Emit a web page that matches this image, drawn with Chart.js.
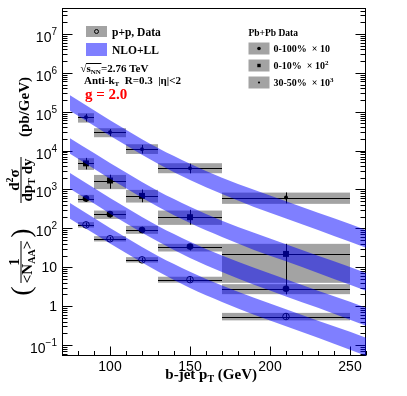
<!DOCTYPE html>
<html><head><meta charset="utf-8">
<script src="https://cdn.jsdelivr.net/npm/chart.js@4.4.0/dist/chart.umd.min.js"></script>
<style>html,body{margin:0;padding:0;background:#fff;}</style>
</head><body>
<canvas id="c" width="407" height="396" style="width:407px;height:396px;display:block"></canvas>
<script>
// ---------- data ----------
const binLo = [80, 90, 110, 130, 170];
const binHi = [90, 110, 130, 170, 250];
const binCenter = [85, 100, 120, 150, 210];

const ppData   = [123, 54, 15.5, 4.8, 0.54];
const ppSysHi  = [145, 63, 18.2, 5.7, 0.67];
const ppSysLo  = [105, 46, 13.2, 4.0, 0.43];
const ppStatHi = [140, 60, 17.5, 5.5, 0.62];
const ppStatLo = [108, 48, 13.7, 4.2, 0.47];

const c0100Data   = [583, 232, 91, 34, 2.8];
const c0100SysHi  = [726, 287, 116, 40, 3.67];
const c0100SysLo  = [461, 175, 72.3, 25.4, 2.03];
const c0100StatHi = [700, 275, 110, 40, 3.9];
const c0100StatLo = [480, 190, 75, 27, 2.0];

const c010Data   = [4700, 1700, 685, 194, 22];
const c010SysHi  = [6380, 2370, 977, 287, 40];
const c010SysLo  = [3190, 1020, 461, 123, 3.97];
const c010StatHi = [6500, 2400, 1000, 300, 40];
const c010StatLo = [3300, 1050, 470, 125, 3.0];

const c3050Data   = [72000, 29700, 10800, 3500, 620];
const c3050SysHi  = [91500, 37700, 14600, 4740, 832];
const c3050SysLo  = [52500, 22100, 8200, 2620, 427];
const c3050StatHi = [88000, 36000, 14000, 4600, 840];
const c3050StatLo = [56000, 23500, 8400, 2600, 440];

// NLO+LL bands (lower / upper edges)
const bandX = [75, 90, 100, 110, 130, 150, 170, 190, 210, 230, 250, 260];
const band3050Hi = [2.67e5, 1.10e5, 6.08e4, 3.46e4, 1.16e4, 4590, 2010, 979, 497, 251, 130, 91.2];
const band3050Lo = [1.06e5, 4.38e4, 2.42e4, 1.38e4, 4610, 1750, 764, 356, 180, 91.2, 45.1, 31.6];
const band010Hi  = [2.09e4, 8630, 4780, 2720, 910, 361, 158, 76.9, 39.0, 19.7, 10.2, 7.16];
const band010Lo  = [8340, 3440, 1900, 1080, 362, 137, 60.0, 27.9, 14.2, 7.16, 3.54, 2.48];
const band0100Hi = [2640, 1090, 601, 342, 115, 45.4, 19.9, 9.68, 4.91, 2.48, 1.29, 0.902];
const band0100Lo = [1050, 433, 239, 136, 45.6, 17.3, 7.55, 3.52, 1.78, 0.902, 0.446, 0.313];
const bandPPHi   = [447, 184, 102, 57.9, 19.4, 7.69, 3.37, 1.64, 0.832, 0.421, 0.218, 0.153];
const bandPPLo   = [178, 73.3, 40.6, 23.1, 7.73, 2.92, 1.28, 0.596, 0.302, 0.153, 0.0755, 0.053];

const xTickValues = [100, 150, 200, 250];
const xTickLabels = ['100', '150', '200', '250'];
const yTickValues = [1e-1, 1, 10, 1e2, 1e3, 1e4, 1e5, 1e6, 1e7];
const yTickLabels = ['10^\u22121', '1', '10', '10^2', '10^3', '10^4', '10^5', '10^6', '10^7'];

// ---------- styling ----------
const SERIF = '"Liberation Serif","Times New Roman",serif';
const SANS = '"Liberation Sans",Arial,sans-serif';
const BOX = '#a3a3a3';
const BAND = 'rgba(0,0,255,0.5)';

const series = [
  {v: ppData, sh: ppSysHi, sl: ppSysLo, th: ppStatHi, tl: ppStatLo},
  {v: c0100Data, sh: c0100SysHi, sl: c0100SysLo, th: c0100StatHi, tl: c0100StatLo},
  {v: c010Data, sh: c010SysHi, sl: c010SysLo, th: c010StatHi, tl: c010StatLo},
  {v: c3050Data, sh: c3050SysHi, sl: c3050SysLo, th: c3050StatHi, tl: c3050StatLo}
];

function pts(vals) { return binCenter.map((x, i) => ({x, y: vals[i]})); }
function bpts(vals) { return bandX.map((x, i) => ({x, y: vals[i]})); }

function rich(ctx, x, y, pieces, align) {
  const w = pieces.map(p => { ctx.font = p.f; return ctx.measureText(p.t).width; });
  const tot = w.reduce((a, b) => a + b, 0);
  let cx = align === 'center' ? x - tot / 2 : (align === 'right' ? x - tot : x);
  ctx.textAlign = 'left'; ctx.textBaseline = 'alphabetic';
  pieces.forEach((p, i) => { ctx.font = p.f; ctx.fillText(p.t, cx, y + (p.dy || 0)); cx += w[i]; });
  return tot;
}
const B = s => `bold ${s}px ${SERIF}`;

function bandPair(lo, hi) {
  return [
    {type: 'line', data: bpts(lo), borderWidth: 0, borderColor: 'rgba(0,0,0,0)', pointRadius: 0, fill: false, order: 0, cubicInterpolationMode: 'monotone'},
    {type: 'line', data: bpts(hi), borderWidth: 0, borderColor: 'rgba(0,0,0,0)', pointRadius: 0, fill: '-1', backgroundColor: BAND, order: 0, cubicInterpolationMode: 'monotone'}
  ];
}

const rootPlugin = {
  id: 'rootStyle',
  beforeDatasetsDraw(chart) {
    const {ctx, chartArea: a} = chart;
    const x = chart.scales.x, y = chart.scales.y;
    ctx.save();
    ctx.beginPath(); ctx.rect(a.left, a.top, a.right - a.left, a.bottom - a.top); ctx.clip();
    ctx.fillStyle = BOX;
    series.forEach(s => {
      binCenter.forEach((c, i) => {
        const x0 = x.getPixelForValue(binLo[i]), x1 = x.getPixelForValue(binHi[i]);
        const y0 = y.getPixelForValue(s.sh[i]), y1 = y.getPixelForValue(s.sl[i]);
        ctx.fillRect(x0, y0, x1 - x0, y1 - y0);
      });
    });
    ctx.strokeStyle = '#000'; ctx.lineWidth = 1;
    series.forEach(s => {
      binCenter.forEach((c, i) => {
        const x0 = x.getPixelForValue(binLo[i]), x1 = x.getPixelForValue(binHi[i]);
        const xc = Math.round(x.getPixelForValue(c)) + 0.5;
        const yc = Math.round(y.getPixelForValue(s.v[i])) + 0.5;
        ctx.beginPath(); ctx.moveTo(x0, yc); ctx.lineTo(x1, yc);
        ctx.moveTo(xc, y.getPixelForValue(s.th[i])); ctx.lineTo(xc, y.getPixelForValue(s.tl[i]));
        ctx.stroke();
      });
    });
    ctx.restore();

    // frame + ticks
    ctx.save();
    ctx.strokeStyle = '#000'; ctx.lineWidth = 1;
    const L = Math.round(a.left) + 0.5, R = Math.round(a.right) - 0.5;
    const T = Math.round(a.top) + 0.5, Bt = Math.round(a.bottom) - 0.5;
    ctx.strokeRect(L, T, R - L, Bt - T);
    ctx.beginPath();
    // x ticks
    for (let v = 70; v <= 260; v += 10) {
      const px = Math.round(x.getPixelForValue(v)) + 0.5;
      const major = xTickValues.includes(v);
      const len = major ? 9 : 4.5;
      ctx.moveTo(px, Bt); ctx.lineTo(px, Bt - len);
    }
    // y ticks
    for (let e = -2; e <= 8; e++) {
      for (let k = 1; k <= 9; k++) {
        const v = k * Math.pow(10, e);
        if (v < y.min || v > y.max) continue;
        const py = Math.round(y.getPixelForValue(v)) + 0.5;
        const len = k === 1 ? 10 : 5;
        ctx.moveTo(L, py); ctx.lineTo(L + len, py);
        ctx.moveTo(R, py); ctx.lineTo(R - len, py);
      }
    }
    ctx.stroke();
    ctx.restore();
  },
  afterDraw(chart) {
    const {ctx, chartArea: a} = chart;
    const x = chart.scales.x, y = chart.scales.y;
    ctx.save();
    ctx.fillStyle = '#000';
    // x tick labels
    ctx.font = `14px ${SANS}`; ctx.textAlign = 'center'; ctx.textBaseline = 'alphabetic';
    xTickValues.forEach((v, i) => ctx.fillText(xTickLabels[i], x.getPixelForValue(v), a.bottom + 15));
    // y tick labels
    yTickValues.forEach((v, i) => {
      const py = y.getPixelForValue(v);
      const parts = yTickLabels[i].split('^');
      if (parts.length === 1) {
        rich(ctx, 57, py + 5, [{t: parts[0], f: `14px ${SANS}`}], 'right');
      } else {
        rich(ctx, 57, py + 8, [{t: parts[0], f: `14px ${SANS}`}, {t: parts[1], f: `10px ${SANS}`, dy: -7}], 'right');
      }
    });
    // x title
    rich(ctx, 257, 379, [{t: 'b-jet p', f: B(15)}, {t: 'T', f: B(10), dy: 3}, {t: ' (GeV)', f: B(15)}], 'right');

    // y title (rotated)
    ctx.save();
    ctx.rotate(-Math.PI / 2);
    const RT = (sy, sx, pieces) => rich(ctx, -sy, sx, pieces, 'center');
    RT(107, 29, [{t: '(pb/GeV)', f: B(15)}]);
    RT(180, 18.5, [{t: 'd', f: B(15)}, {t: '2', f: B(10), dy: -6}, {t: '\u03c3', f: B(15)}]);
    RT(180, 32, [{t: 'dp', f: B(15)}, {t: 'T', f: B(10), dy: 3}, {t: ' dy', f: B(15)}]);
    RT(262, 18.5, [{t: '1', f: B(15)}]);
    RT(262, 32, [{t: '<N', f: B(15)}, {t: 'AA', f: B(10), dy: 3}, {t: '>', f: B(15)}]);
    RT(291, 30, [{t: '(', f: `28px ${SERIF}`}]);
    RT(233, 30, [{t: ')', f: `28px ${SERIF}`}]);
    ctx.lineWidth = 1; ctx.strokeStyle = '#000';
    ctx.beginPath();
    ctx.moveTo(-203, 21); ctx.lineTo(-157, 21);
    ctx.moveTo(-283, 21); ctx.lineTo(-241, 21);
    ctx.stroke();
    ctx.restore();

    // left legend
    ctx.fillStyle = BOX; ctx.fillRect(86, 26, 21, 11);
    ctx.strokeStyle = '#000'; ctx.lineWidth = 1;
    ctx.beginPath(); ctx.arc(96.5, 31.5, 2, 0, Math.PI * 2); ctx.stroke();
    ctx.fillStyle = BAND; ctx.fillRect(86, 43, 21, 13);
    ctx.fillStyle = '#000';
    rich(ctx, 112, 35.5, [{t: 'p+p, Data', f: B(11.5)}], 'left');
    rich(ctx, 112, 54, [{t: 'NLO+LL', f: B(11.5)}], 'left');
    // sqrt s
    const w1 = rich(ctx, 80.5, 72, [{t: '\u221A', f: B(11)}], 'left');
    const w2 = rich(ctx, 80.5 + w1, 72, [{t: 's', f: B(11)}, {t: 'NN', f: B(7), dy: 2}], 'left');
    ctx.beginPath(); ctx.moveTo(80.5 + w1 - 0.5, 63.5); ctx.lineTo(80.5 + w1 + w2 + 0.5, 63.5); ctx.stroke();
    rich(ctx, 80.5 + w1 + w2, 72, [{t: '=2.76 TeV', f: B(11)}], 'left');
    rich(ctx, 84, 84, [{t: 'Anti-k', f: B(11)}, {t: 'T', f: B(7), dy: 2}, {t: '  R=0.3  |\u03b7|<2', f: B(11)}], 'left');
    ctx.fillStyle = '#ff0000';
    rich(ctx, 85, 99, [{t: 'g = 2.0', f: B(15)}], 'left');

    // right legend
    ctx.fillStyle = '#000';
    rich(ctx, 248.5, 36, [{t: 'Pb+Pb Data', f: B(9.5)}], 'left');
    const rows = [48.5, 65.5, 82.5];
    rows.forEach((cy, i) => {
      ctx.fillStyle = BOX; ctx.fillRect(248.5, cy - 6, 21, 12);
      ctx.fillStyle = '#000';
      ctx.beginPath();
      if (i === 0) { ctx.arc(259, cy, 1.8, 0, Math.PI * 2); ctx.fill(); }
      else if (i === 1) { ctx.fillRect(257.3, cy - 1.7, 3.4, 3.4); }
      else { ctx.arc(259, cy, 1.1, 0, Math.PI * 2); ctx.fill(); }
    });
    rich(ctx, 273.5, rows[0] + 3.5, [{t: '0-100%  \u00d7 10', f: B(10)}], 'left');
    rich(ctx, 273.5, rows[1] + 3.5, [{t: '0-10%  \u00d7 10', f: B(10)}, {t: '2', f: B(7), dy: -4}], 'left');
    rich(ctx, 273.5, rows[2] + 3.5, [{t: '30-50%  \u00d7 10', f: B(10)}, {t: '3', f: B(7), dy: -4}], 'left');
    ctx.restore();
  }
};

new Chart(document.getElementById('c'), {
  data: {
    datasets: [
      ...bandPair(band3050Lo, band3050Hi),
      ...bandPair(band010Lo, band010Hi),
      ...bandPair(band0100Lo, band0100Hi),
      ...bandPair(bandPPLo, bandPPHi),
      {type: 'scatter', data: pts(ppData), pointStyle: 'circle', pointRadius: 3.3, borderColor: '#000', backgroundColor: 'rgba(0,0,0,0)', borderWidth: 1, order: 5},
      {type: 'scatter', data: pts(c0100Data), pointStyle: 'circle', pointRadius: 3.3, borderColor: '#000', backgroundColor: '#000', borderWidth: 0, order: 5},
      {type: 'scatter', data: pts(c010Data), pointStyle: 'rect', pointRadius: 4.2, borderColor: '#000', backgroundColor: '#000', borderWidth: 0, order: 5},
      {type: 'scatter', data: pts(c3050Data), pointStyle: 'circle', pointRadius: 2, borderColor: '#000', backgroundColor: '#000', borderWidth: 0, order: 5}
    ]
  },
  options: {
    responsive: false,
    animation: false,
    devicePixelRatio: 1,
    events: [],
    layout: {padding: {left: 62, top: 8, right: 41, bottom: 40}},
    plugins: {legend: {display: false}, tooltip: {enabled: false}},
    scales: {
      x: {type: 'linear', min: 70, max: 260, display: false},
      y: {type: 'logarithmic', min: 0.0521, max: 4.66e7, display: false}
    }
  },
  plugins: [rootPlugin]
});
</script>
</body></html>
